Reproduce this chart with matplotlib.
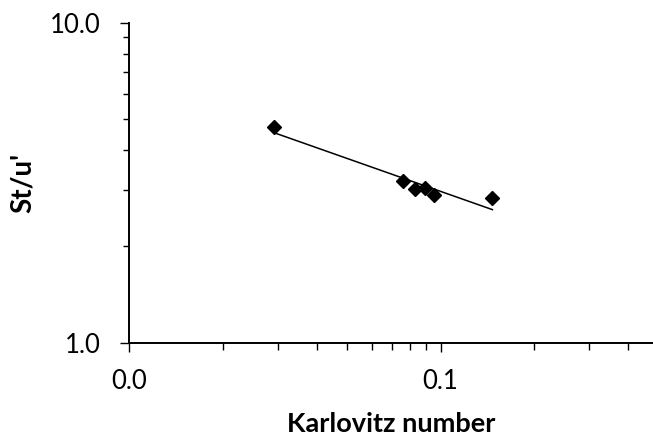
import numpy as np
import matplotlib
matplotlib.use("Agg")
import matplotlib.pyplot as plt
from matplotlib.ticker import LogLocator, FormatStrFormatter, NullFormatter

# values
karlovitz = [0.0292, 0.0755, 0.0825, 0.0888, 0.0950, 0.1467]
st_over_u = [4.73, 3.19, 3.03, 3.04, 2.90, 2.84]

x_label = "Karlovitz number"
y_label = "St/u'"


def main():
    plt.rcParams["font.family"] = ["Lato", "DejaVu Sans"]

    fig = plt.figure(figsize=(6.53, 4.41), dpi=100)
    ax = fig.add_axes([0.198, 0.223, 0.802, 0.7255])

    # power trendline (straight line in log-log), like Excel
    lx = np.log10(karlovitz)
    ly = np.log10(st_over_u)
    slope, icpt = np.polyfit(lx, ly, 1)
    xt = np.array([min(karlovitz), max(karlovitz)])
    ax.plot(xt, 10 ** (icpt + slope * np.log10(xt)), color="black", linewidth=1.1)

    ax.plot(karlovitz, st_over_u, linestyle="none", marker="D",
            markersize=6.8, color="black")

    ax.set_xscale("log")
    ax.set_yscale("log")
    ax.set_xlim(0.01, 0.481)
    ax.set_ylim(1.0, 10.0)

    for a in (ax.xaxis, ax.yaxis):
        a.set_major_locator(LogLocator(base=10))
        a.set_minor_locator(LogLocator(base=10, subs=np.arange(2, 10)))
        a.set_major_formatter(FormatStrFormatter("%.1f"))
        a.set_minor_formatter(NullFormatter())

    ax.spines["top"].set_visible(False)
    ax.spines["right"].set_visible(False)
    ax.spines["left"].set_linewidth(1.4)
    ax.spines["bottom"].set_linewidth(1.4)

    ax.tick_params(which="major", direction="out", length=6.8, width=1.0,
                   labelsize=18.5, pad=12)
    ax.tick_params(axis="y", which="minor", direction="out", length=4.3, width=1.0)
    ax.tick_params(axis="x", which="minor", direction="out", length=5.0, width=1.0)
    ax.tick_params(axis="y", which="major", pad=14)

    ax.set_xlabel(x_label, fontsize=19.5, fontweight="bold", labelpad=13)
    ax.set_ylabel(y_label, fontsize=20, fontweight="bold")
    ax.yaxis.set_label_coords(-0.178, 0.5)

    fig.savefig("out.png", dpi=100)


if __name__ == "__main__":
    main()
